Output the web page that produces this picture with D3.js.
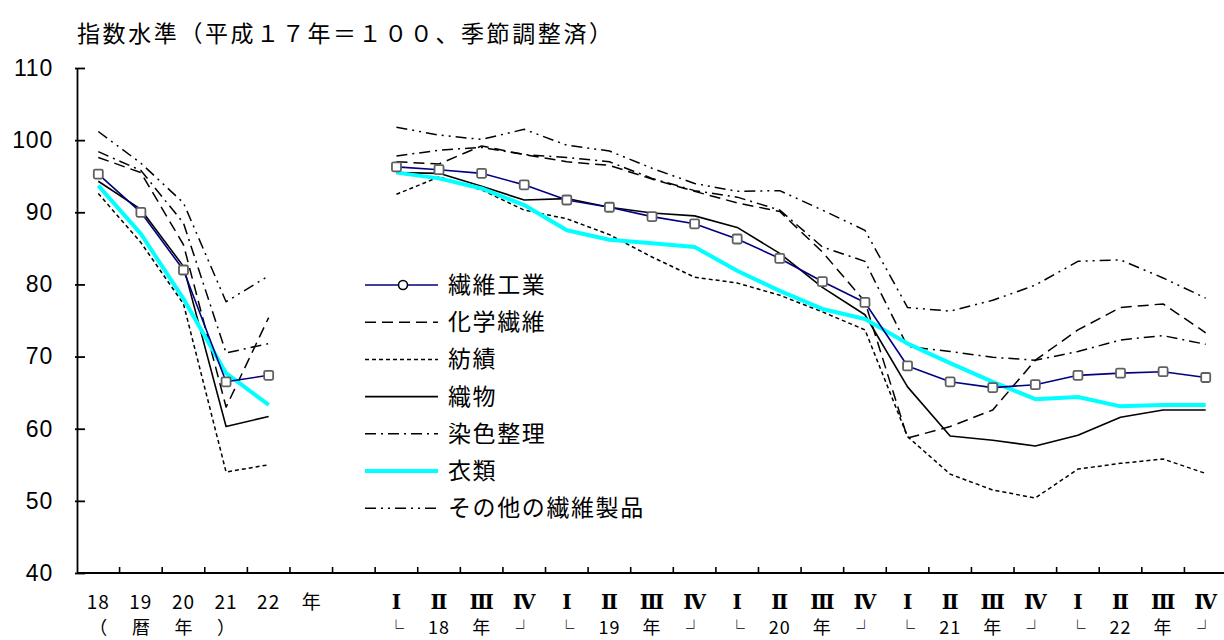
<!DOCTYPE html>
<html>
<head>
<meta charset="utf-8">
<script src="https://cdn.jsdelivr.net/npm/d3@7"></script>
<style>
    body {margin: 0; background: #ffffff;}
</style>
</head>
<body>
<div id="chart"></div>
<script>
// 軸ラベル
var yearLabels = ["18", "19", "20", "21", "22"];
var yearSub = ["（", "暦", "年", "）"];
var quarterLabels = ["Ⅰ", "Ⅱ", "Ⅲ", "Ⅳ"];
var quarterYears = ["18", "19", "20", "21", "22"];
var yTicks = [40, 50, 60, 70, 80, 90, 100, 110];
var seriesNames = ["繊維工業", "化学繊維", "紡績", "織物", "染色整理", "衣類", "その他の繊維製品"];

// 暦年 (18-22) と 四半期 (18年Ⅰ - 22年Ⅳ)
var textile_y = [95.3, 90.0, 82.0, 66.5, 67.4];
var textile_q = [96.3, 95.9, 95.4, 93.8, 91.7, 90.7, 89.4, 88.4, 86.3, 83.6, 80.4, 77.5, 68.7, 66.5, 65.7, 66.1, 67.4, 67.7, 67.9, 67.1];
var chemical_y = [97.6, 95.5, 85.5, 63.0, 75.4];
var chemical_q = [97.0, 96.7, 99.2, 98.0, 97.0, 96.5, 94.6, 92.9, 91.3, 90.1, 84.5, 77.6, 58.7, 60.3, 62.6, 69.5, 73.7, 76.8, 77.3, 73.3];
var spinning_y = [92.6, 85.8, 77.3, 54.0, 55.0];
var spinning_q = [92.5, 94.9, 93.1, 90.3, 89.1, 86.9, 83.8, 81.0, 80.2, 78.5, 76.2, 73.7, 58.9, 53.7, 51.5, 50.4, 54.4, 55.2, 55.8, 53.8];
var weaving_y = [94.3, 90.4, 82.5, 60.3, 61.7];
var weaving_q = [95.5, 95.4, 93.6, 91.7, 91.9, 90.7, 89.9, 89.5, 87.9, 84.3, 79.6, 75.8, 65.8, 59.0, 58.4, 57.6, 59.1, 61.6, 62.6, 62.6];
var dyeing_y = [98.4, 95.8, 88.5, 70.5, 71.8];
var dyeing_q = [97.8, 98.6, 99.0, 98.0, 97.6, 97.0, 94.7, 93.0, 92.1, 90.3, 85.2, 83.2, 71.4, 70.7, 69.9, 69.5, 70.7, 72.3, 72.9, 71.7];
var apparel_y = [93.7, 87.0, 78.0, 67.7, 63.3];
var apparel_q = [95.5, 94.7, 93.3, 91.0, 87.5, 86.2, 85.7, 85.2, 81.9, 79.1, 76.6, 75.2, 71.8, 69.1, 66.5, 64.1, 64.4, 63.1, 63.3, 63.3];
var other_y = [101.2, 96.8, 91.3, 77.6, 81.2];
var other_q = [101.8, 100.7, 100.1, 101.5, 99.3, 98.5, 96.1, 94.0, 92.9, 93.0, 90.3, 87.5, 76.8, 76.3, 77.8, 79.9, 83.2, 83.4, 80.9, 78.1];

var svg_width = 1224, svg_height = 640;
var left_x = 77, right_x = 1227, top_y = 68, bottom_y = 573;
var cjk = "'Noto Sans CJK JP', sans-serif";
var latin = "'Liberation Sans', Arial, sans-serif";
var serif = "'DejaVu Serif', 'Liberation Serif', serif";

var svg = d3.select("#chart").append("svg")
    .attr("width", svg_width)
    .attr("height", svg_height);

// 0-4 = 暦年, 5-6 = 空き, 7-26 = 四半期
var x = d3.scaleBand().domain(d3.range(27)).range([left_x, right_x]).padding(0);
var bw = x.bandwidth();
var y = d3.scaleLinear().domain([40, 110]).range([bottom_y, top_y]);
function cx(i) { return x(i) + bw / 2; }

// タイトル
svg.append("text")
    .attr("x", 77).attr("y", 42)
    .style("font-family", cjk).style("font-size", "23px").style("letter-spacing", "2.6px")
    .text("指数水準（平成１７年＝１００、季節調整済）");

// y軸
var yAxis = d3.axisLeft(y).tickValues(yTicks).tickSize(0).tickPadding(24);
var yg = svg.append("g").attr("transform", "translate(" + left_x + ",0)").call(yAxis);
yg.select(".domain").attr("stroke", "#000").attr("stroke-width", 1.8);
yg.selectAll("text").style("font-family", latin).style("font-size", "23px").style("letter-spacing", "0.8px").attr("fill", "#000");
yg.selectAll(".tick").append("line")
    .attr("x1", -2).attr("x2", 8).attr("stroke", "#000").attr("stroke-width", 1.8);

// x軸 (目盛は区切り位置、内向き)
svg.append("line")
    .attr("x1", left_x).attr("x2", svg_width).attr("y1", bottom_y).attr("y2", bottom_y)
    .attr("stroke", "#000").attr("stroke-width", 2.2);
svg.append("g").selectAll("line").data(d3.range(1, 27)).enter().append("line")
    .attr("x1", function (d) { return x(d); })
    .attr("x2", function (d) { return x(d); })
    .attr("y1", bottom_y).attr("y2", bottom_y - 6)
    .attr("stroke", "#000").attr("stroke-width", 1.6);

var row1 = 609, row2 = 634;
var labels = svg.append("g").style("font-family", cjk).attr("text-anchor", "middle").attr("fill", "#000");
yearLabels.forEach(function (t, i) {
    labels.append("text").attr("x", cx(i)).attr("y", row1).style("font-size", "19px").style("letter-spacing", "1px").text(t);
});
labels.append("text").attr("x", cx(5)).attr("y", row1).style("font-size", "19px").text("年");
yearSub.forEach(function (t, i) {
    labels.append("text").attr("x", cx(i)).attr("y", row2).style("font-size", "18px").text(t);
});
quarterYears.forEach(function (yr, k) {
    var sub = ["└", yr, "年", "┘"];
    quarterLabels.forEach(function (q, j) {
        var i = 7 + k * 4 + j;
        labels.append("text").attr("x", cx(i)).attr("y", row1)
            .style("font-family", serif).style("font-size", "20px").style("font-weight", "bold")
            .text(q);
        labels.append("text").attr("x", cx(i)).attr("y", row2)
            .style("font-size", (j == 0 || j == 3) ? "16px" : "18px")
            .style("letter-spacing", "1px")
            .text(sub[j]);
    });
});

// 系列
var series = [
    {name: seriesNames[1], yv: chemical_y, qv: chemical_q, color: "#000", width: 1.5, dash: "11,6"},
    {name: seriesNames[2], yv: spinning_y, qv: spinning_q, color: "#000", width: 1.5, dash: "4,3"},
    {name: seriesNames[3], yv: weaving_y, qv: weaving_q, color: "#000", width: 1.6, dash: null},
    {name: seriesNames[4], yv: dyeing_y, qv: dyeing_q, color: "#000", width: 1.5, dash: "11,5,2,5"},
    {name: seriesNames[6], yv: other_y, qv: other_q, color: "#000", width: 1.5, dash: "11,5,2,5,2,5"},
    {name: seriesNames[5], yv: apparel_y, qv: apparel_q, color: "#00ffff", width: 4, dash: null},
    {name: seriesNames[0], yv: textile_y, qv: textile_q, color: "#000080", width: 1.6, dash: null}
];

var line = d3.line()
    .x(function (d) { return cx(d.i); })
    .y(function (d) { return y(d.v); });

function points(s) {
    var a = s.yv.map(function (v, i) { return {i: i, v: v}; });
    var b = s.qv.map(function (v, i) { return {i: 7 + i, v: v}; });
    return [a, b];
}

series.forEach(function (s) {
    points(s).forEach(function (seg) {
        svg.append("path")
            .attr("d", line(seg))
            .attr("fill", "none")
            .attr("stroke", s.color)
            .attr("stroke-width", s.width)
            .attr("stroke-dasharray", s.dash)
            .attr("stroke-linejoin", "round");
    });
});

// 繊維工業のマーカー
var tx = series[6];
points(tx).forEach(function (seg) {
    svg.append("g").selectAll("rect").data(seg).enter().append("rect")
        .attr("x", function (d) { return cx(d.i) - 4.5; })
        .attr("y", function (d) { return y(d.v) - 4.5; })
        .attr("width", 9).attr("height", 9).attr("rx", 1.5)
        .attr("fill", "#fff").attr("stroke", "#606060").attr("stroke-width", 1.8);
});

// 凡例
var legendOrder = [6, 0, 1, 2, 3, 5, 4];
var lg = svg.append("g");
legendOrder.forEach(function (si, r) {
    var s = series[si];
    var ly = 285 + r * 37.2;
    lg.append("line")
        .attr("x1", 365).attr("x2", 438).attr("y1", ly).attr("y2", ly)
        .attr("stroke", s.color).attr("stroke-width", s.width)
        .attr("stroke-dasharray", s.dash);
    if (si == 6) {
        lg.append("circle").attr("cx", 403).attr("cy", ly).attr("r", 4.5)
            .attr("fill", "#fff").attr("stroke", "#000").attr("stroke-width", 1.6);
    }
    lg.append("text").attr("x", 448).attr("y", ly + 8)
        .style("font-family", cjk).style("font-size", "23px").style("letter-spacing", "1.6px")
        .text(s.name);
});
</script>
</body>
</html>
